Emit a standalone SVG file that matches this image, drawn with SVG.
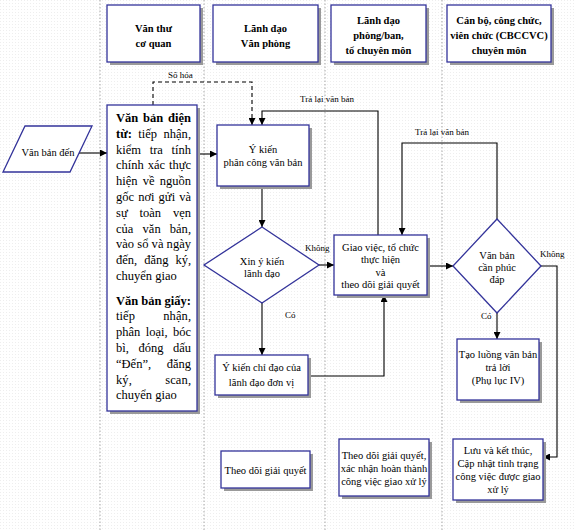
<svg xmlns="http://www.w3.org/2000/svg" width="576" height="530" viewBox="0 0 576 530">
<defs>
<pattern id="bg" width="3" height="3" patternUnits="userSpaceOnUse"><rect width="3" height="3" fill="#fff"/><rect width="1" height="1" fill="#eeeeee"/></pattern>
<marker id="ah" viewBox="0 0 10 10" refX="10" refY="5" markerWidth="7" markerHeight="7" markerUnits="userSpaceOnUse" orient="auto"><path d="M0,0 L10,5 L0,10 z" fill="#000"/></marker>
</defs>
<style>
.box{fill:#fff;stroke:#33339a;stroke-width:1.3}
.sh{fill:#9a9a9a}
.lane{stroke:#a8a8a8;stroke-width:1;stroke-dasharray:1.5 2;fill:none}
.t{font-family:"Liberation Serif","Times New Roman",serif;font-size:10.5px;fill:#000;text-anchor:middle}
.h{font-family:"Liberation Serif","Times New Roman",serif;font-size:10.5px;font-weight:bold;fill:#000;text-anchor:middle}
.j{font-family:"Liberation Serif","Times New Roman",serif;font-size:12.5px;fill:#000}
.b{font-weight:bold}
.lbl{font-family:"Liberation Serif","Times New Roman",serif;font-size:9px;fill:#000}
.c{stroke:#000;stroke-width:1.1;fill:none}
.d{stroke:#000;stroke-width:1.1;fill:none;stroke-dasharray:4 3}
</style>
<rect width="576" height="530" fill="url(#bg)"/>
<g id="lanes">
<line class="lane" x1="100" y1="0" x2="100" y2="530"/>
<line class="lane" x1="204" y1="0" x2="204" y2="530"/>
<line class="lane" x1="325" y1="0" x2="325" y2="530"/>
<line class="lane" x1="442" y1="0" x2="442" y2="530"/>
</g>
<g id="header1"><rect class="sh" x="110" y="8" width="93" height="57"/><rect class="box" x="107" y="5" width="93" height="57"/><text class="h" x="153.5" y="32">Văn thư</text><text class="h" x="153.5" y="47">cơ quan</text></g>
<g id="header2"><rect class="sh" x="216" y="8" width="105" height="57"/><rect class="box" x="213" y="5" width="105" height="57"/><text class="h" x="265.5" y="32">Lãnh đạo</text><text class="h" x="265.5" y="47">Văn phòng</text></g>
<g id="header3"><rect class="sh" x="334" y="8" width="95" height="57"/><rect class="box" x="331" y="5" width="95" height="57"/><text class="h" x="378.5" y="24">Lãnh đạo</text><text class="h" x="378.5" y="39">phòng/ban,</text><text class="h" x="378.5" y="54">tổ chuyên môn</text></g>
<g id="header4"><rect class="sh" x="450" y="8" width="104" height="57"/><rect class="box" x="447" y="5" width="104" height="57"/><text class="h" x="499" y="24">Cán bộ, công chức,</text><text class="h" x="499" y="39">viên chức (CBCCVC)</text><text class="h" x="499" y="54">chuyên môn</text></g>

<g id="connectors">
<line class="c" x1="79" y1="153" x2="107" y2="153" marker-end="url(#ah)"/>
<line class="c" x1="197" y1="154" x2="217" y2="154" marker-end="url(#ah)"/>
<polyline class="d" points="153,105 153,82 252,82 252,125" marker-end="url(#ah)"/>
<polyline class="c" points="378,235 378,111 262,111 262,125" marker-end="url(#ah)"/>
<line class="c" x1="262" y1="186" x2="262" y2="227" marker-end="url(#ah)"/>
<line class="c" x1="319" y1="265" x2="334" y2="265" marker-end="url(#ah)"/>
<line class="c" x1="262" y1="303" x2="262" y2="355" marker-end="url(#ah)"/>
<polyline class="c" points="308,376 384,376 384,295" marker-end="url(#ah)"/>
<line class="c" x1="427" y1="266" x2="453" y2="266" marker-end="url(#ah)"/>
<polyline class="c" points="497,219 497,143 402,143 402,235" marker-end="url(#ah)"/>
<line class="c" x1="497" y1="313" x2="497" y2="339" marker-end="url(#ah)"/>
<polyline class="c" points="541,266 557,266 557,457 543,457" marker-end="url(#ah)"/>
<text class="lbl" x="168" y="78">Số hóa</text>
<text class="lbl" x="300" y="102">Trả lại văn bản</text>
<text class="lbl" x="415" y="135">Trả lại văn bản</text>
<text class="lbl" x="305" y="251">Không</text>
<text class="lbl" x="285" y="318">Có</text>
<text class="lbl" x="540" y="257">Không</text>
<text class="lbl" x="481" y="319">Có</text>
</g>

<g id="van-ban-den"><polygon class="box" points="25,126 92,126 70,172 3,172"/><text class="t" x="48" y="156">Văn bản đến</text></g>

<g id="van-thu">
<rect class="sh" x="110" y="108" width="90" height="306"/><rect class="box" x="107" y="105" width="90" height="306"/>
<text class="j b" x="116" y="122" textLength="75" lengthAdjust="spacing" word-spacing="1.7">Văn bản điện</text>
<text class="j" x="116" y="137.8" textLength="75" lengthAdjust="spacing" word-spacing="3.3"><tspan class="b">từ:</tspan> tiếp nhận,</text>
<text class="j" x="116" y="153.6" textLength="75" lengthAdjust="spacing" word-spacing="5.5">kiểm tra tính</text>
<text class="j" x="116" y="169.4" textLength="75" lengthAdjust="spacing" word-spacing="0.7">chính xác thực</text>
<text class="j" x="116" y="185.2" textLength="75" lengthAdjust="spacing" word-spacing="2">hiện về nguồn</text>
<text class="j" x="116" y="201" textLength="75" lengthAdjust="spacing" word-spacing="0.9">gốc nơi gửi và</text>
<text class="j" x="116" y="216.8" textLength="75" lengthAdjust="spacing" word-spacing="8.7">sự toàn vẹn</text>
<text class="j" x="116" y="232.6" textLength="75" lengthAdjust="spacing" word-spacing="6">của văn bản,</text>
<text class="j" x="116" y="248.4" textLength="75" lengthAdjust="spacing">vào sổ và ngày</text>
<text class="j" x="116" y="264.2" textLength="75" lengthAdjust="spacing" word-spacing="3.8">đến, đăng ký,</text>
<text class="j" x="116" y="280">chuyển giao</text>
<text class="j b" x="116" y="304.5" textLength="75" lengthAdjust="spacing">Văn bản giấy:</text>
<text class="j" x="116" y="320.3" textLength="75" lengthAdjust="spacing" word-spacing="25">tiếp nhận,</text>
<text class="j" x="116" y="336.1" textLength="75" lengthAdjust="spacing" word-spacing="2.2">phân loại, bóc</text>
<text class="j" x="116" y="351.9" textLength="75" lengthAdjust="spacing" word-spacing="6.4">bì, đóng dấu</text>
<text class="j" x="116" y="367.7" textLength="75" lengthAdjust="spacing" word-spacing="12.5">“Đến”, đăng</text>
<text class="j" x="116" y="383.5" textLength="75" lengthAdjust="spacing" word-spacing="30">ký, scan,</text>
<text class="j" x="116" y="399.3">chuyển giao</text>
</g>

<g id="y-kien-phan-cong"><rect class="sh" x="220" y="128" width="92" height="61"/><rect class="box" x="217" y="125" width="92" height="61"/><text class="t" x="263" y="153">Ý kiến</text><text class="t" x="263" y="165.5">phân công văn bản</text></g>

<g id="xin-y-kien"><polygon class="box" points="262,227 319,265 262,303 204,265"/><text class="t" x="262" y="265">Xin ý kiến</text><text class="t" x="262" y="277">lãnh đạo</text></g>

<g id="y-kien-chi-dao"><rect class="sh" x="218" y="358" width="93" height="40"/><rect class="box" x="215" y="355" width="93" height="40"/><text class="t" x="261.5" y="370.5">Ý kiến chỉ đạo của</text><text class="t" x="261.5" y="385.5">lãnh đạo đơn vị</text></g>

<g id="theo-doi-1"><rect class="sh" x="224" y="454" width="89" height="37"/><rect class="box" x="221" y="451" width="89" height="37"/><text class="t" x="265.5" y="473.5">Theo dõi giải quyết</text></g>

<g id="giao-viec"><rect class="sh" x="337" y="238" width="93" height="60"/><rect class="box" x="334" y="235" width="93" height="60"/><text class="t" x="380.5" y="250.5">Giao việc, tổ chức</text><text class="t" x="380.5" y="263">thực hiện</text><text class="t" x="380.5" y="275.5">và</text><text class="t" x="380.5" y="288">theo dõi giải quyết</text></g>

<g id="theo-doi-2"><rect class="sh" x="342" y="442" width="90" height="57"/><rect class="box" x="339" y="439" width="90" height="57"/><text class="t" x="384" y="458.5">Theo dõi giải quyết,</text><text class="t" x="384" y="471.5">xác nhận hoàn thành</text><text class="t" x="384" y="485">công việc giao xử lý</text></g>

<g id="can-phuc-dap"><polygon class="box" points="497,219 541,266 497,313 453,266"/><text class="t" x="497" y="258.5">Văn bản</text><text class="t" x="497" y="270.5">cần phúc</text><text class="t" x="497" y="282.5">đáp</text></g>

<g id="tao-luong"><rect class="sh" x="460" y="342" width="82" height="61"/><rect class="box" x="457" y="339" width="82" height="61"/><text class="t" x="498" y="357.5">Tạo luồng văn bản</text><text class="t" x="498" y="370.5">trả lời</text><text class="t" x="498" y="383.5">(Phụ lục IV)</text></g>

<g id="luu-ket-thuc"><rect class="sh" x="456" y="442" width="90" height="61"/><rect class="box" x="453" y="439" width="90" height="61"/><text class="t" x="498" y="453.5">Lưu và kết thúc,</text><text class="t" x="498" y="466.5">Cập nhật tình trạng</text><text class="t" x="498" y="479.5">công việc được giao</text><text class="t" x="498" y="492.5">xử lý</text></g>
</svg>
